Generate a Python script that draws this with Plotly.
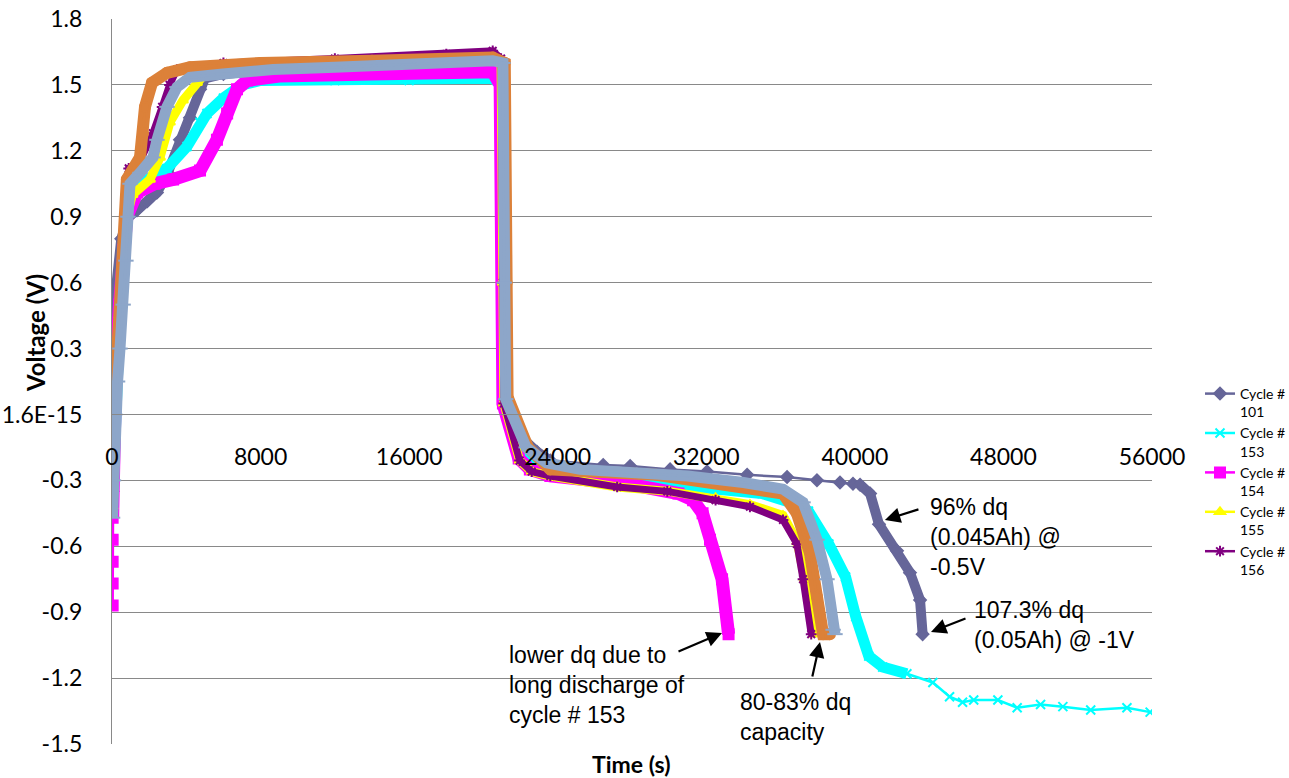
import plotly.graph_objects as go

# ---------------- data ----------------
t101 = [30, 100, 250, 500, 900, 1350, 1900, 2420, 3000, 3660, 4200, 4740, 5000, 6000, 9000, 13000, 17000, 20600,
        21050, 21150, 21250, 22000, 22880, 23600, 26450, 27900, 30050, 32040, 34200, 36350, 37960, 39200, 39900,
        40280, 40820, 41300, 42270, 42970, 43510, 43650]
v101 = [-0.35, 0.3, 0.6, 0.8, 0.9, 0.93, 0.97, 1.01, 1.1, 1.25, 1.35, 1.48, 1.53, 1.55, 1.57, 1.58, 1.59, 1.6,
        1.58, 0.6, 0.08, -0.1, -0.17, -0.21, -0.23, -0.235, -0.25, -0.26, -0.275, -0.285, -0.3, -0.31, -0.315,
        -0.32, -0.36, -0.5, -0.62, -0.72, -0.845, -1.0]

t153 = [30, 150, 400, 700, 900, 1500, 2960, 4040, 4740, 5115, 6000, 7000, 8000, 12000, 16000, 20500, 20950,
        21050, 21150, 22000, 23000, 24000, 28000, 32000, 35000, 36500, 37500, 38600, 39500, 40050, 40750, 41500,
        42800, 44200, 45100, 45800, 46400, 47700, 48740, 50000, 51200, 52700, 54650, 55900]
v153 = [-0.4, 0.0, 0.4, 0.8, 0.97, 1.05, 1.12, 1.22, 1.33, 1.37, 1.44, 1.5, 1.52, 1.52, 1.52, 1.53, 1.5,
        0.6, 0.06, -0.17, -0.24, -0.27, -0.3, -0.33, -0.36, -0.4, -0.44, -0.59, -0.74, -0.92, -1.1, -1.15,
        -1.18, -1.22, -1.285, -1.31, -1.3, -1.3, -1.335, -1.32, -1.33, -1.345, -1.335, -1.355]

t154 = [35, 35, 35, 35, 35, 60, 120, 200, 400, 600, 800, 1350, 2300, 3290, 4740, 5650, 6200, 6730, 7270, 9000,
        14000, 18000, 20500, 20900, 21000, 21050, 21900, 22500, 23600, 28000, 30500, 31290, 31800, 32200, 32850,
        33200]
v154 = [-0.87, -0.77, -0.67, -0.57, -0.47, -0.3, 0.0, 0.2, 0.5, 0.75, 0.9, 1.01, 1.05, 1.07, 1.11, 1.25, 1.37,
        1.48, 1.52, 1.54, 1.55, 1.56, 1.56, 1.5, 0.6, 0.05, -0.2, -0.25, -0.28, -0.32, -0.36, -0.39, -0.45, -0.57,
        -0.75, -1.0]

t155 = [30, 100, 200, 400, 600, 800, 1100, 2046, 2585, 3120, 3820, 4577, 5000, 8000, 12000, 16000, 20500, 20950,
        21050, 21100, 21950, 22600, 23600, 27200, 30000, 32500, 34350, 36130, 36900, 37300, 37800]
v155 = [-0.42, -0.2, 0.1, 0.45, 0.7, 0.9, 1.0, 1.07, 1.17, 1.33, 1.43, 1.51, 1.55, 1.58, 1.6, 1.62, 1.63, 1.6,
        0.6, 0.05, -0.21, -0.26, -0.28, -0.33, -0.35, -0.38, -0.41, -0.46, -0.58, -0.75, -1.0]

t156 = [30, 100, 200, 400, 600, 800, 900, 1500, 2200, 2700, 3100, 3500, 6000, 12000, 18000, 20500, 20950, 21050,
        21100, 21950, 22600, 23600, 27200, 29900, 32500, 34350, 36130, 36880, 37210, 37650]
v156 = [-0.4, -0.2, 0.1, 0.4, 0.7, 1.0, 1.12, 1.15, 1.28, 1.4, 1.5, 1.57, 1.6, 1.62, 1.64, 1.655, 1.62, 0.6,
        0.05, -0.21, -0.26, -0.28, -0.33, -0.35, -0.39, -0.42, -0.48, -0.59, -0.75, -1.0]

t157 = [30, 150, 300, 450, 600, 700, 800, 1508, 1670, 1777, 2154, 2962, 4200, 8000, 14000, 20500, 21150, 21250,
        21300, 22400, 23600, 29300, 33200, 36130, 36880, 37580, 37960, 38290, 38660]
v157 = [-0.1, 0.1, 0.3, 0.5, 0.7, 0.9, 1.07, 1.17, 1.28, 1.4, 1.51, 1.555, 1.58, 1.6, 1.61, 1.625, 1.6, 0.6,
        0.08, -0.15, -0.25, -0.275, -0.32, -0.36, -0.45, -0.63, -0.83, -1.0, -1.0]

t158 = [30, 80, 150, 300, 430, 600, 750, 860, 970, 1508, 2208, 2423, 2962, 3500, 4200, 5977, 8670, 12000, 16000,
        20500, 21050, 21120, 21200, 22300, 23400, 25200, 28000, 31000, 34000, 36130, 37210, 37960, 38500, 38830,
        38930]
v158 = [-0.47, -0.3, 0.0, 0.15, 0.3, 0.5, 0.7, 0.9, 1.05, 1.1, 1.17, 1.25, 1.4, 1.49, 1.535, 1.55, 1.57, 1.58,
        1.595, 1.61, 1.6, 0.6, 0.07, -0.15, -0.22, -0.25, -0.265, -0.28, -0.31, -0.34, -0.4, -0.57, -0.75, -0.98,
        -1.0]

y_ticks = [-1.5, -1.2, -0.9, -0.6, -0.3, 0.0, 0.3, 0.6, 0.9, 1.2, 1.5, 1.8]
y_ticktext = ["-1.5", "-1.2", "-0.9", "-0.6", "-0.3", "1.6E-15", "0.3", "0.6", "0.9", "1.2", "1.5", "1.8"]
x_ticks = [0, 8000, 16000, 24000, 32000, 40000, 48000, 56000]

# ---------------- styling ----------------
series = [
    # name, t, v, color, symbol, msize, band width, band index ranges, in legend
    ("Cycle #<br>101", t101, v101, "#666699", "diamond", 9, 10, [(0, 24), (33, 40)], True),
    ("Cycle #<br>153", t153, v153, "#00FFFF", "x-thin-open", 9, 11, [(0, 33)], True),
    ("Cycle #<br>154", t154, v154, "#FF00FF", "square", 10, 13, [(4, 36)], True),
    ("Cycle #<br>155", t155, v155, "#FFFF00", "triangle-up", 9, 9, [(0, 31)], True),
    ("Cycle #<br>156", t156, v156, "#800080", "asterisk-open", 9, 7, [(0, 30)], True),
    ("Cycle #<br>157", t157, v157, "#DC8139", "circle", 10, 12, [(0, 29)], False),
    ("Cycle #<br>158", t158, v158, "#8DA6C9", "line-ew-open", 11, 11, [(0, 35)], False),
]


def band(t, v, ranges):
    bx, by = [], []
    for a, b in ranges:
        bx += t[a:b] + [None]
        by += v[a:b] + [None]
    return bx, by


fig = go.Figure()
for name, t, v, col, sym, ms, bw, rngs, leg in series:
    bx, by = band(t, v, rngs)
    fig.add_trace(go.Scatter(x=bx, y=by, mode="lines", line=dict(color=col, width=bw),
                             showlegend=False, hoverinfo="skip", connectgaps=False))
    fig.add_trace(go.Scatter(x=t, y=v, mode="lines+markers", name=name, showlegend=leg,
                             line=dict(color=col, width=2.5),
                             marker=dict(symbol=sym, size=ms, color=col, line=dict(color=col, width=2))))

L, R, T, B = 112, 1152, 19, 744
W, H = 1289, 778


def px(xp):
    return (xp - L) / (R - L)


def py(yp):
    return (B - yp) / (B - T)


grid = "#898989"
fig.update_layout(
    width=W, height=H,
    margin=dict(l=L, r=W - R, t=T, b=H - B, autoexpand=False),
    paper_bgcolor="white", plot_bgcolor="white",
    font=dict(family="Lato, Liberation Sans, sans-serif", color="black"),
    xaxis=dict(range=[0, 56000], tickvals=x_ticks, ticktext=[str(x) for x in x_ticks],
               showgrid=False, zeroline=False, showline=True, linecolor=grid, linewidth=1.3,
               anchor="free", position=1.5 / 3.3, ticks="", ticklabelstandoff=22, automargin=False,
               tickfont=dict(size=23, family="Lato", color="black")),
    yaxis=dict(range=[-1.5, 1.8], tickvals=y_ticks, ticktext=y_ticktext, automargin=False,
               showgrid=True, gridcolor=grid, gridwidth=1.3, zeroline=False,
               showline=True, linecolor=grid, linewidth=1.3, ticks="", ticklabelstandoff=24,
               tickfont=dict(size=23, family="Lato", color="black")),
    legend=dict(x=px(1200), y=py(378), xanchor="left", yanchor="top", valign="top",
                font=dict(size=14, family="Lato"), tracegroupgap=0, bgcolor="rgba(0,0,0,0)"),
    showlegend=True,
)

ann_font = dict(family="Liberation Sans, Arial, sans-serif", size=23, color="black")
texts = [
    ("96% dq<br>(0.045Ah) @<br>-0.5V", 928, 537),
    ("107.3% dq<br>(0.05Ah) @ -1V", 972, 625),
    ("lower dq due to<br>long discharge of<br>cycle # 153", 507, 685),
    ("80-83% dq<br>capacity", 738, 716.5),
]
for txt, xp, yp in texts:
    fig.add_annotation(text=txt, xref="paper", yref="paper", x=px(xp), y=py(yp), xanchor="left",
                       yanchor="middle", align="left", showarrow=False, font=ann_font)

# arrows: head in data coords, tail offset in pixels
arrows = [(41620, -0.48, 35, -11), (44100, -0.99, 36, -14), (32846, -0.995, -45, 19), (38123, -1.036, -8, 36)]
for xh, yh, axp, ayp in arrows:
    fig.add_annotation(x=xh, y=yh, xref="x", yref="y", text="", showarrow=True, ax=axp, ay=ayp,
                       arrowhead=2, arrowsize=1.4, arrowwidth=2.2, arrowcolor="black")

fig.add_annotation(text="<b>Voltage (V)</b>", xref="paper", yref="paper", x=px(35), y=py(333),
                   xanchor="center", yanchor="middle",
                   textangle=-90, showarrow=False, font=dict(family="Lato", size=24, color="black"))
fig.add_annotation(text="<b>Time (s)</b>", xref="paper", yref="paper", x=px(631), y=py(764),
                   xanchor="center", yanchor="middle",
                   showarrow=False, font=dict(family="Lato", size=23, color="black"))

fig.write_html("out.html")
